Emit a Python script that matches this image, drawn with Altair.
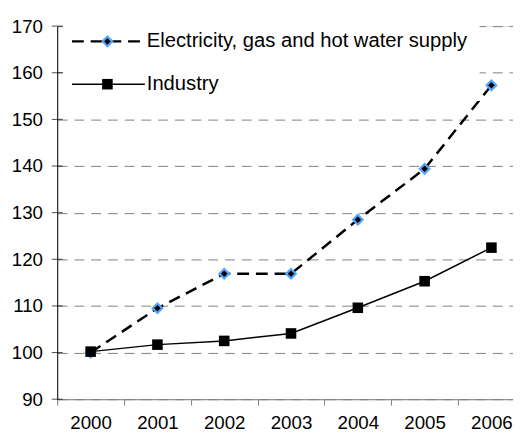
import altair as alt
import pandas as pd

years = ["2000", "2001", "2002", "2003", "2004", "2005", "2006"]
electricity = [100.0, 109.5, 116.9, 116.9, 128.5, 139.4, 157.3]
industry = [100.2, 101.7, 102.5, 104.1, 109.6, 115.3, 122.5]
y_ticks = [90, 100, 110, 120, 130, 140, 150, 160, 170]
series_names = ["Electricity, gas and hot water supply", "Industry"]

FONT = "Liberation Sans"

df_e = pd.DataFrame({"year": years, "value": electricity})
df_i = pd.DataFrame({"year": years, "value": industry})
df_t = pd.DataFrame({"v": y_ticks})

W, H = 463, 379
xscale = alt.Scale(type="band", domain=years, range=[0, 475], paddingInner=0, paddingOuter=0)
yscale = alt.Scale(domain=[90, 170], nice=False, zero=False)

xaxis = alt.Axis(title=None, tickBand="extent", domainColor="#808080", tickColor="#808080",
                 tickSize=6, labelFont=FONT, labelFontSize=19, labelColor="black",
                 labelPadding=9, grid=False, labelAngle=0)
yaxis = alt.Axis(title=None, values=y_ticks, ticks=False, domainColor="black",
                 labelFont=FONT, labelFontSize=19, labelColor="black", labelPadding=15,
                 grid=True, gridColor="#808080", gridDash=[10, 7], gridWidth=1)

base_e = alt.Chart(df_e).encode(
    x=alt.X("year:O", scale=xscale, axis=xaxis),
    y=alt.Y("value:Q", scale=yscale, axis=yaxis),
)
base_i = alt.Chart(df_i).encode(
    x=alt.X("year:O", scale=xscale),
    y=alt.Y("value:Q", scale=yscale),
)

DIAMOND = dict(shape="diamond", size=95, filled=True, fill="black",
               stroke="#55a5ff", strokeWidth=2.2, opacity=1)

line_e = base_e.mark_line(color="black", strokeWidth=2.5, strokeDash=[12, 7])
pts_e = base_e.mark_point(**DIAMOND)
line_i = base_i.mark_line(color="black", strokeWidth=1.5)
pts_i = base_i.mark_point(shape="square", size=115, filled=True, color="black", opacity=1)

# legend background and custom legend
leg_bg = alt.Chart(df_t.head(1)).mark_rect(fill="white").encode(
    x=alt.value(6), x2=alt.value(429), y=alt.value(-3), y2=alt.value(76))

yticks = alt.Chart(df_t).mark_tick(orient="horizontal", color="black", thickness=1, size=11).encode(
    y=alt.Y("v:Q", scale=yscale), x=alt.value(0))

leg_df = pd.DataFrame({"name": series_names})
leg_e_line = alt.Chart(leg_df.head(1)).mark_rule(color="black", strokeWidth=2.5, strokeDash=[12, 7]).encode(
    x=alt.value(15), x2=alt.value(89), y=alt.value(15.5))
leg_e_pt = alt.Chart(leg_df.head(1)).mark_point(**DIAMOND).encode(
    x=alt.value(51), y=alt.value(15.5))
leg_e_txt = alt.Chart(leg_df.head(1)).mark_text(align="left", baseline="middle", font=FONT,
                                                 fontSize=20.5, color="black").encode(
    x=alt.value(91), y=alt.value(15), text="name:N")
leg_i_line = alt.Chart(leg_df.tail(1)).mark_rule(color="black", strokeWidth=1.5).encode(
    x=alt.value(15), x2=alt.value(89), y=alt.value(59))
leg_i_pt = alt.Chart(leg_df.tail(1)).mark_point(shape="square", size=115, filled=True,
                                                 color="black", opacity=1).encode(
    x=alt.value(51), y=alt.value(59))
leg_i_txt = alt.Chart(leg_df.tail(1)).mark_text(align="left", baseline="middle", font=FONT,
                                                 fontSize=20.5, color="black").encode(
    x=alt.value(91), y=alt.value(59), text="name:N")

chart = alt.layer(
    line_e, leg_bg, yticks, pts_e, line_i, pts_i,
    leg_e_line, leg_e_pt, leg_e_txt, leg_i_line, leg_i_pt, leg_i_txt,
).properties(
    width=W, height=H,
    autosize=alt.AutoSizeParams(type="none"),
    padding={"left": 50, "top": 15, "right": 0, "bottom": 35},
).configure_view(stroke=None).configure(background="white")

chart.save("out.html", embed_options={"renderer": "svg", "actions": False})
